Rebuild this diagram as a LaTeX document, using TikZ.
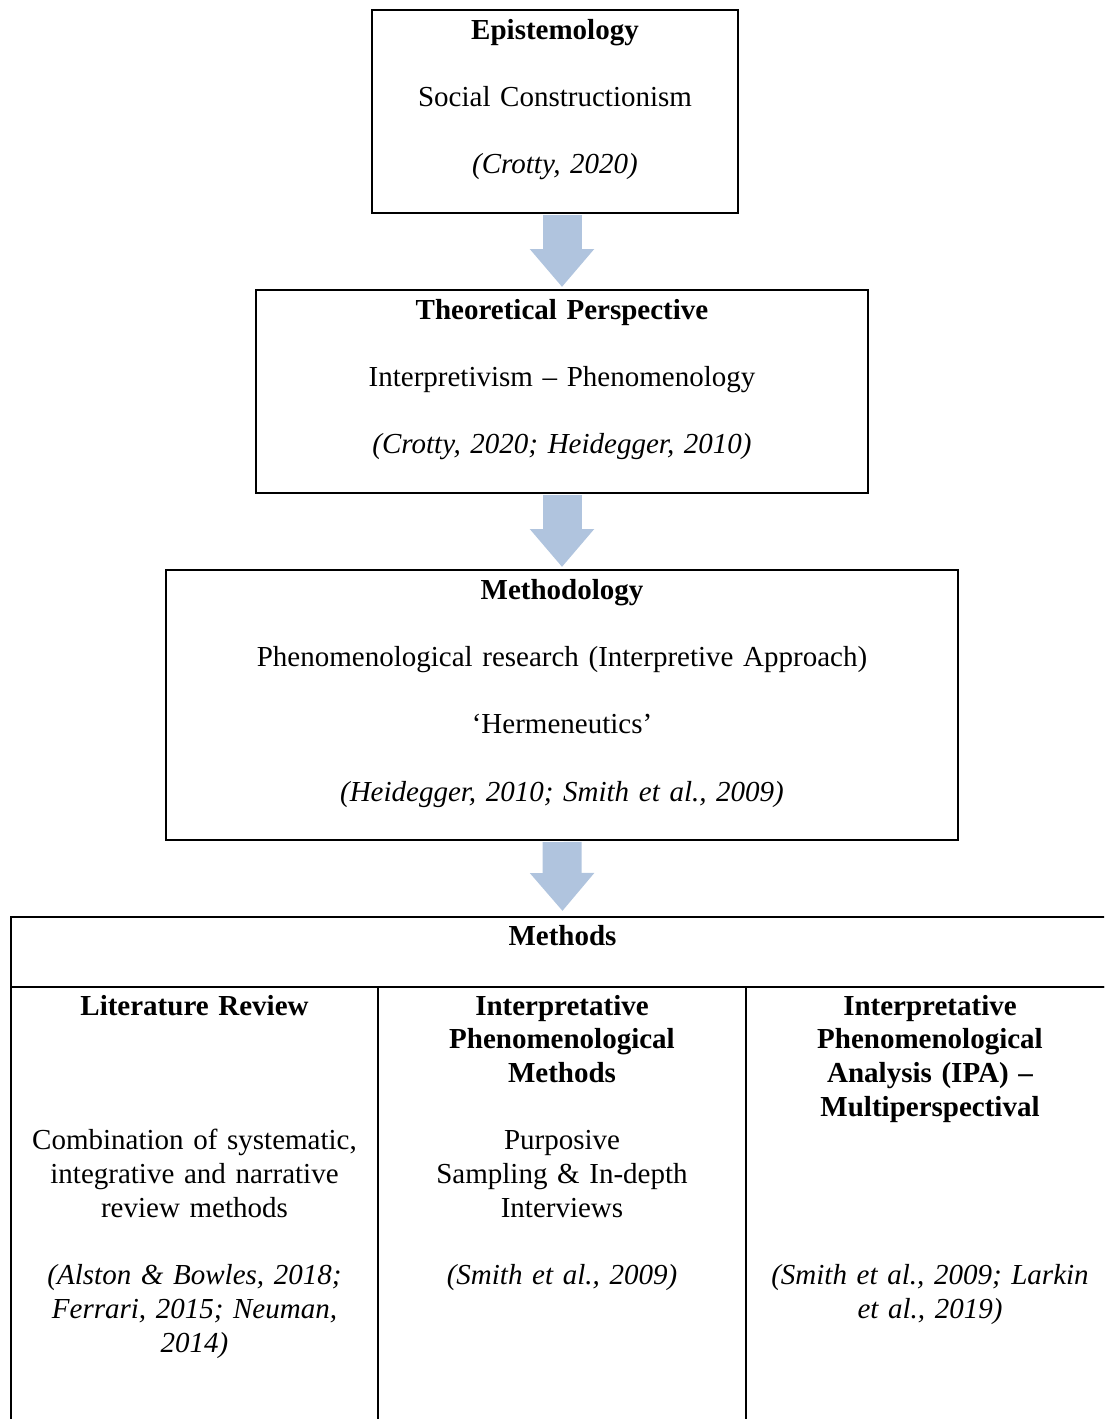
\documentclass[tikz,border=0pt]{standalone}
\usepackage{fontspec}
\setmainfont{Liberation Serif}
\usetikzlibrary{arrows.meta,positioning}
\definecolor{arrowblue}{RGB}{176,196,222}

\begin{document}
\begin{tikzpicture}[x=1pt,y=-1pt,
  frame/.style={draw,line width=2pt,inner sep=0pt},
  lbl/.style={anchor=base,align=center,inner sep=0pt,text width=#1,
    font=\fontsize{29}{33.7}\selectfont},
  lbl/.default=355pt,
  flow/.style={arrowblue,line width=39pt,shorten <=1pt,shorten >=2pt,
    -{Triangle[width=62pt,length=38pt]}}]
  \useasboundingbox (0,0) rectangle (1104,1419);
  \clip (0,0) rectangle (1104,1419);
  % boxes of the chain
  \node[frame,minimum width=366pt,minimum height=203pt] (epi) at (555,111.5) {};
  \node[frame,minimum width=612pt,minimum height=203pt] (theo) at (562,391.5) {};
  \node[frame,minimum width=792pt,minimum height=270pt] (meth) at (562,705) {};
  % methods table
  \node[frame,minimum width=1103pt,minimum height=70pt] (methods) at (562.5,952) {};
  \node[frame,minimum width=367pt,minimum height=453pt] (lit) at (194.5,1213.5) {};
  \node[frame,minimum width=368pt,minimum height=453pt] (ipm) at (562,1213.5) {};
  \node[frame,minimum width=368pt,minimum height=453pt] (ipa) at (930,1213.5) {};
  % arrows
  \draw[flow] (epi.south -| theo.north) -- (theo.north);
  \draw[flow] (theo.south) -- (meth.north);
  \draw[flow,shorten >=5pt] (meth.south) -- (methods.north);
  % texts
  \node[lbl] (epiT) at ([yshift=-30pt]epi.north)
    {\textbf{Epistemology}\\[33.7pt] Social Constructionism\\[33.7pt] \textit{(Crotty, 2020)}};
  \node[lbl=600pt] (theoT) at ([yshift=-30pt]theo.north)
    {\textbf{Theoretical Perspective}\\[33.7pt] Interpretivism -- Phenomenology\\[33.7pt]
     \textit{(Crotty, 2020; Heidegger, 2010)}};
  \node[lbl=780pt] (methT) at ([yshift=-30pt]meth.north)
    {\textbf{Methodology}\\[33.7pt] Phenomenological research (Interpretive Approach)\\[33.7pt]
     ‘Hermeneutics’\\[33.7pt] \textit{(Heidegger, 2010; Smith et al., 2009)}};
  \node[lbl=1000pt] (methodsT) at ([yshift=-29pt]methods.north) {\textbf{Methods}};
  \node[lbl] (litT) at ([yshift=-29pt]lit.north)
    {\textbf{Literature Review}\\[101.1pt] Combination of systematic,\\ integrative and narrative\\
     review methods\\[33.7pt] \textit{(Alston \& Bowles, 2018;\\ Ferrari, 2015; Neuman,\\ 2014)}};
  \node[lbl] (ipmT) at ([yshift=-29pt]ipm.north)
    {\textbf{Interpretative\\ Phenomenological\\ Methods}\\[33.7pt] Purposive\\ Sampling \& In-depth\\
     Interviews\\[33.7pt] \textit{(Smith et al., 2009)}};
  \node[lbl] (ipaT) at ([yshift=-29pt]ipa.north)
    {\textbf{Interpretative\\ Phenomenological\\ Analysis (IPA) --\\ Multiperspectival}\\[134.8pt]
     \textit{(Smith et al., 2009; Larkin\\ et al., 2019)}};
\end{tikzpicture}
\end{document}
